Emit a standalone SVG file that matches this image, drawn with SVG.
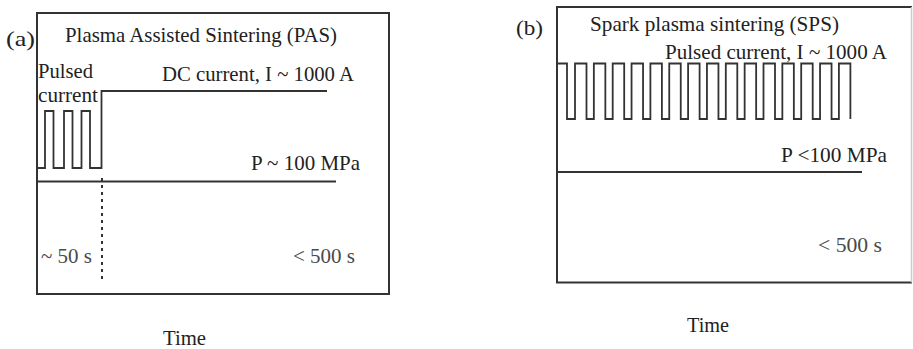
<svg xmlns="http://www.w3.org/2000/svg" width="913" height="349" viewBox="0 0 913 349">
<style>
text{font-family:'Liberation Serif','DejaVu Serif',serif;font-size:21px;fill:#222}
.g{fill:#4a4a4a}
.box{fill:none;stroke:#333;stroke-width:2}
.ln{fill:none;stroke:#333;stroke-width:1.8}
.dot{fill:none;stroke:#333;stroke-width:2;stroke-dasharray:3 4}
</style>
<rect width="913" height="349" fill="#fff"/>
<g id="panel-a">
<rect class="box" x="37" y="13" width="352" height="281"/>
<text x="6" y="46" textLength="29" lengthAdjust="spacingAndGlyphs">(a)</text>
<text x="65" y="42" textLength="272" lengthAdjust="spacingAndGlyphs">Plasma Assisted Sintering (PAS)</text>
<text x="38" y="78" textLength="55" lengthAdjust="spacingAndGlyphs">Pulsed</text>
<text x="38" y="102" textLength="60" lengthAdjust="spacingAndGlyphs">current</text>
<text x="162" y="81" textLength="192" lengthAdjust="spacingAndGlyphs">DC current, I ~ 1000 A</text>
<text x="251" y="170" textLength="109" lengthAdjust="spacingAndGlyphs">P ~ 100 MPa</text>
<text class="g" x="41" y="263" textLength="51" lengthAdjust="spacingAndGlyphs">~ 50 s</text>
<text class="g" x="293" y="263" textLength="62" lengthAdjust="spacingAndGlyphs">&lt; 500 s</text>
<text x="163" y="345" textLength="43" lengthAdjust="spacingAndGlyphs">Time</text>
</g>
<g id="panel-b">
<path d="M912,7 H557 V282.5 H912" class="box"/>
<path d="M911.5,7 V282.5" fill="none" stroke="#ccc" stroke-width="1.5"/>
<text x="516" y="35" textLength="27" lengthAdjust="spacingAndGlyphs">(b)</text>
<text x="590" y="31" textLength="249" lengthAdjust="spacingAndGlyphs">Spark plasma sintering (SPS)</text>
<text x="665" y="59" textLength="222" lengthAdjust="spacingAndGlyphs">Pulsed current, I ~ 1000 A</text>
<text x="781" y="162" textLength="106" lengthAdjust="spacingAndGlyphs">P &lt;100 MPa</text>
<text class="g" x="818" y="252" textLength="64" lengthAdjust="spacingAndGlyphs">&lt; 500 s</text>
<text x="687" y="332" textLength="42" lengthAdjust="spacingAndGlyphs">Time</text>
</g>
<g id="connectors">
<path class="ln" d="M37,168 H45 V111 H53.5 V168 H64 V111 H72.5 V168 H81.5 V111 H90 V168 H101.5 V91 H327"/>
<path class="ln" d="M37,181.5 H336"/>
<path class="dot" d="M102,178 V282"/>
<path class="ln" d="M558,63.5 H567 V119 H575 V63.5 H586.5 V119 H593.85 V63.5 H605.35 V119 H612.7 V63.5 H624.2 V119 H631.55 V63.5 H643.05 V119 H650.4 V63.5 H661.9 V119 H669.25 V63.5 H680.75 V119 H688.1 V63.5 H699.6 V119 H706.95 V63.5 H718.45 V119 H725.8 V63.5 H737.3 V119 H744.65 V63.5 H756.15 V119 H763.5 V63.5 H775 V119 H782.35 V63.5 H793.85 V119 H801.2 V63.5 H812.7 V119 H820.05 V63.5 H831.55 V119 H838.9 V63.5 H850.4 V119"/>
<path class="ln" d="M557,172 H862"/>
</g>
</svg>
